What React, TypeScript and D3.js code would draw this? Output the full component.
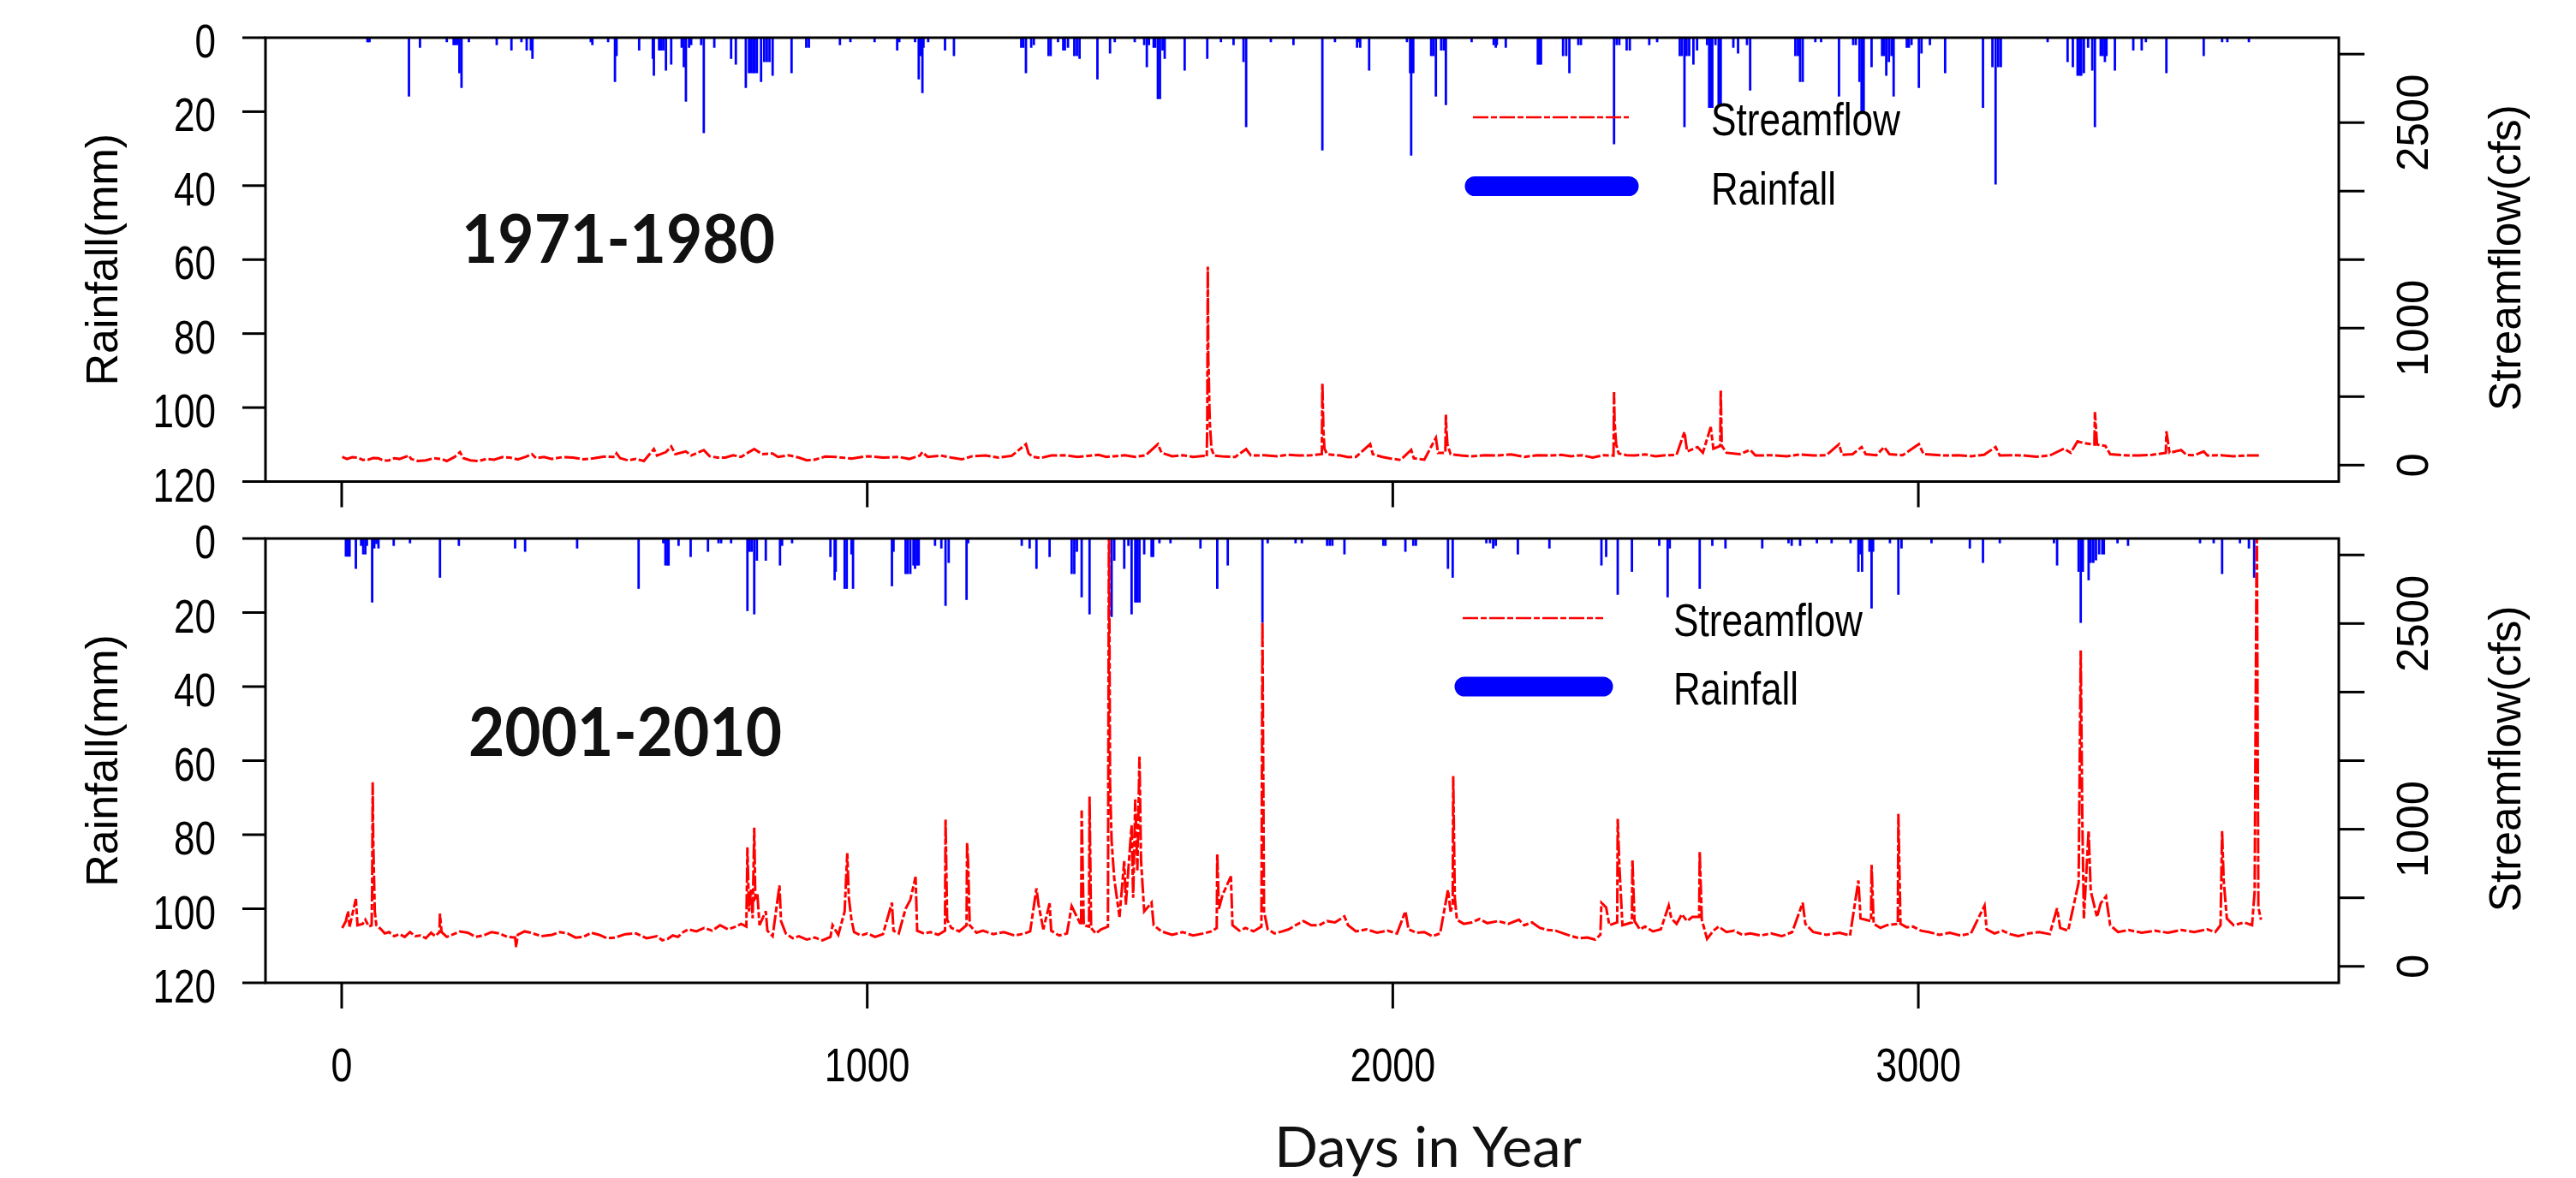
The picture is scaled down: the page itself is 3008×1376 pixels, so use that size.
import React, { useEffect, useRef } from 'react';
import * as d3 from 'd3';

// axis ticks
const rainTicks = [0, 20, 40, 60, 80, 100, 120];
const flowTicks = [0, 500, 1000, 1500, 2000, 2500, 3000];
const flowTickLabels = [0, 1000, 2500];
const dayTicks = [0, 1000, 2000, 3000];

// [day, rainfall mm] for 1971-1980
const rain1971: [number, number][] = [
  [49, 1.2], [51, 1.2], [53, 1.2], [128, 15.9], [149, 2.7], [200, 1.2], [213, 2], [216, 2], [220, 2], [224, 9.6], [228, 13.6],
  [242, 1.2], [295, 2], [323, 3.5], [342, 1.2], [352, 3.5], [360, 3.5], [363, 5.7], [474, 1.2], [477, 2], [507, 1.2],
  [520, 12], [523, 5], [566, 3.5], [592, 5.7], [594, 10.3], [604, 3.5], [608, 3.5], [612, 3.5], [617, 8.9], [627, 7.3],
  [647, 2.7], [651, 8], [655, 17.3], [661, 2.7], [665, 2], [684, 2], [689, 25.8], [709, 2.7], [741, 5.7], [750, 7.3],
  [769, 13.6], [775, 9.6], [779, 9.6], [783, 9.6], [786, 9.6], [790, 9.6], [798, 12], [804, 6.6], [809, 6.6], [814, 6.6], [820, 10.3],
  [856, 9.6], [884, 2.7], [889, 2.7], [948, 2], [968, 1.2], [1014, 1.2], [1057, 3.5], [1061, 1.2], [1091, 1.2], [1098, 11.3],
  [1102, 5], [1105, 15], [1107, 2.7], [1116, 1.2], [1148, 3.5], [1165, 5], [1293, 2.7], [1297, 2.7], [1302, 9.6], [1312, 2.7],
  [1317, 2], [1345, 5], [1349, 5], [1363, 1.2], [1373, 3.5], [1376, 3.5], [1382, 2.7], [1394, 5], [1399, 5], [1404, 5.7],
  [1438, 11.3], [1462, 4.3], [1471, 1.2], [1509, 1.2], [1527, 2], [1532, 8], [1536, 2], [1545, 2.7], [1548, 2.7], [1553, 16.6],
  [1557, 16.6], [1562, 3.5], [1566, 5.7], [1604, 8.9], [1647, 5.7], [1673, 1.2], [1697, 2], [1716, 6.6], [1721, 24.2],
  [1768, 1.2], [1811, 2], [1866, 30.5], [1890, 1.2], [1932, 2.7], [1936, 1.2], [1938, 2.7], [1955, 8.9], [2027, 1.2],
  [2033, 9.6], [2035, 31.9], [2039, 9.6], [2073, 5], [2077, 5], [2082, 15.9], [2092, 3.5], [2097, 3.5], [2101, 18.2],
  [2150, 1.2], [2192, 2], [2196, 2.7], [2198, 2], [2215, 2.7], [2276, 7.3], [2279, 7.3], [2282, 7.3], [2324, 5], [2330, 5],
  [2336, 9.6], [2353, 2], [2358, 2], [2421, 28.8], [2426, 2], [2431, 2], [2445, 3.5], [2451, 3.5], [2488, 2], [2503, 1.2],
  [2546, 5], [2550, 5], [2555, 24.2], [2559, 5], [2564, 5], [2572, 7.3], [2579, 3.5], [2598, 2], [2602, 19], [2605, 19],
  [2608, 19], [2614, 2], [2620, 18.2], [2624, 18.2], [2648, 2.7], [2657, 4.3], [2674, 2], [2680, 14.3], [2766, 5], [2771, 5],
  [2775, 12], [2780, 12], [2804, 1.2], [2815, 1.2], [2849, 15.9], [2876, 2], [2881, 2], [2888, 12], [2892, 20], [2896, 20],
  [2911, 8], [2931, 5], [2935, 5], [2939, 10.3], [2944, 6.6], [2949, 5], [2953, 15.9], [2978, 2.7], [2982, 2.7], [2987, 2],
  [3001, 13.6], [3006, 4.3], [3022, 2], [3051, 9.6], [3123, 19], [3141, 8], [3147, 39.7], [3152, 8], [3157, 8], [3246, 1.2],
  [3284, 6.6], [3294, 8], [3303, 10.3], [3307, 10.3], [3310, 10.3], [3315, 9.6], [3323, 2.7], [3331, 8.9], [3336, 24.2],
  [3347, 5], [3351, 5], [3355, 6.6], [3358, 5], [3374, 8.9], [3409, 3.5], [3425, 3.5], [3433, 1.2], [3472, 9.6], [3543, 5],
  [3578, 1.2], [3588, 1.2], [3629, 1.2]
];

// [day, streamflow cfs] for 1971-1980
const flow1971: [number, number][] = [
  [1, 60], [10, 45], [20, 58], [30, 55], [40, 38], [50, 40], [60, 52], [70, 50], [80, 32], [90, 35], [100, 50], [110, 45],
  [128, 70], [132, 45], [145, 30], [160, 35], [175, 50], [190, 45], [200, 30], [215, 60], [225, 95], [232, 50], [245, 35],
  [260, 30], [275, 45], [290, 40], [305, 58], [320, 55], [335, 42], [350, 60], [362, 80], [370, 50], [385, 60], [400, 45],
  [420, 58], [440, 55], [460, 42], [480, 50], [500, 62], [520, 60], [523, 85], [530, 50], [545, 35], [560, 45], [575, 30],
  [594, 117], [600, 70], [617, 95], [627, 136], [635, 80], [655, 100], [665, 70], [689, 110], [700, 65], [715, 55], [730, 55],
  [745, 72], [760, 60], [775, 95], [785, 117], [800, 80], [820, 85], [830, 60], [850, 72], [870, 55], [885, 35], [900, 40],
  [920, 62], [940, 60], [970, 48], [1000, 65], [1030, 55], [1060, 60], [1080, 45], [1100, 70], [1105, 95], [1115, 60],
  [1140, 70], [1160, 55], [1180, 42], [1200, 65], [1225, 70], [1250, 55], [1275, 68], [1302, 153], [1307, 85], [1315, 60],
  [1330, 52], [1350, 70], [1375, 72], [1400, 60], [1420, 68], [1440, 75], [1455, 60], [1470, 65], [1490, 72], [1510, 60],
  [1530, 72], [1553, 153], [1560, 90], [1580, 65], [1600, 72], [1620, 60], [1640, 68], [1646, 60], [1647, 300], [1648, 1449],
  [1649, 770], [1650, 640], [1651, 430], [1652, 300], [1655, 120], [1660, 70], [1680, 62], [1700, 60], [1721, 117],
  [1730, 70], [1755, 72], [1780, 65], [1800, 75], [1820, 70], [1845, 72], [1865, 80], [1866, 598], [1867, 435], [1868, 250],
  [1870, 120], [1875, 80], [1900, 70], [1915, 58], [1930, 60], [1957, 153], [1962, 80], [1980, 60], [2000, 45], [2015, 38],
  [2035, 111], [2040, 50], [2060, 40], [2082, 199], [2086, 90], [2100, 90], [2101, 368], [2102, 268], [2104, 150], [2110, 80],
  [2130, 70], [2150, 65], [2175, 72], [2200, 70], [2225, 78], [2250, 60], [2275, 72], [2300, 70], [2320, 75], [2340, 65],
  [2360, 72], [2380, 55], [2400, 72], [2420, 70], [2421, 533], [2422, 320], [2425, 150], [2430, 85], [2445, 72], [2460, 70],
  [2480, 78], [2500, 65], [2520, 72], [2540, 75], [2555, 243], [2560, 100], [2580, 132], [2590, 90], [2605, 278], [2610, 120],
  [2623, 140], [2624, 550], [2626, 140], [2635, 90], [2660, 80], [2680, 111], [2690, 70], [2720, 72], [2750, 65], [2775, 78],
  [2800, 70], [2825, 72], [2849, 153], [2855, 75], [2875, 80], [2892, 132], [2900, 80], [2920, 72], [2935, 132], [2945, 80],
  [2970, 72], [3001, 153], [3010, 80], [3030, 75], [3050, 70], [3075, 72], [3100, 65], [3125, 75], [3147, 132], [3155, 70],
  [3180, 72], [3200, 70], [3225, 62], [3250, 70], [3277, 120], [3290, 90], [3303, 174], [3315, 160], [3335, 150], [3336, 387],
  [3340, 150], [3356, 140], [3365, 80], [3390, 72], [3420, 70], [3445, 75], [3471, 90], [3472, 247], [3478, 90], [3500, 110],
  [3510, 75], [3525, 72], [3543, 100], [3550, 70], [3575, 72], [3600, 65], [3625, 70], [3648, 70]
];

// [day, rainfall mm] for 2001-2010
const rain2001: [number, number][] = [
  [8, 4.9], [12, 4.9], [15, 4.9], [27, 8.2], [37, 2], [41, 4.3], [45, 4.3], [48, 2], [58, 17.3], [62, 2.7], [66, 1.5],
  [70, 2.7], [99, 2], [130, 1.3], [187, 10.6], [223, 2], [330, 2.7], [349, 3.6], [448, 2.7], [565, 13.6], [612, 1.3],
  [616, 7.3], [620, 7.3], [622, 7.3], [641, 2], [664, 5], [697, 3.6], [717, 1.3], [722, 1.3], [741, 1.3], [772, 19.6],
  [776, 3.6], [780, 3.6], [785, 20.5], [790, 6], [807, 6], [834, 7.3], [838, 2], [857, 1.3], [930, 5], [938, 11.3], [940, 9],
  [957, 13.6], [961, 13.6], [970, 4.3], [973, 13.6], [1047, 12.9], [1050, 3.6], [1073, 9.6], [1077, 9.6], [1082, 9.6],
  [1088, 7.3], [1091, 8.2], [1095, 7.3], [1098, 7.3], [1129, 2], [1141, 2.7], [1149, 18.2], [1155, 6.6], [1189, 16.6],
  [1192, 1.3], [1294, 2], [1309, 2.7], [1322, 8.2], [1347, 5], [1389, 9.6], [1394, 9.6], [1399, 3.6], [1408, 15.9],
  [1423, 20.5], [1465, 21.2], [1470, 6], [1489, 8.2], [1497, 2], [1503, 20.5], [1510, 17.3], [1514, 17.3], [1518, 17.3],
  [1527, 4.3], [1541, 5], [1544, 5], [1556, 1.3], [1577, 1.3], [1634, 2.7], [1666, 13.6], [1686, 7.3], [1752, 22.8],
  [1762, 1.3], [1815, 1.3], [1827, 1.3], [1875, 2], [1880, 2], [1885, 2], [1908, 4.3], [1982, 2], [1986, 2], [2024, 3.6],
  [2039, 2], [2044, 2], [2105, 8.2], [2114, 10.6], [2178, 1.3], [2185, 1.3], [2191, 2.7], [2196, 2], [2238, 4.3], [2298, 2.7],
  [2397, 7.3], [2406, 5], [2428, 15.2], [2455, 9], [2507, 2], [2523, 15.9], [2527, 2.7], [2584, 13.6], [2608, 2], [2633, 2.7],
  [2703, 2.7], [2753, 1.3], [2759, 2], [2775, 2], [2807, 1.3], [2835, 1.3], [2871, 1.3], [2886, 9], [2890, 4.3], [2893, 9],
  [2907, 3.6], [2911, 18.9], [2914, 3.6], [2946, 1.3], [2962, 15.2], [2968, 2.7], [3025, 1.3], [3098, 2.7], [3123, 6.6],
  [3155, 1.3], [3258, 1.3], [3264, 7.3], [3305, 9], [3309, 22.8], [3313, 9], [3324, 11.3], [3328, 6.6], [3333, 6.6],
  [3338, 5.9], [3344, 4.3], [3350, 4.3], [3353, 4.3], [3379, 1.3], [3399, 2], [3536, 1.3], [3562, 1.3], [3578, 9.6],
  [3612, 1.3], [3629, 2.7], [3639, 10.6]
];

// [day, streamflow cfs] for 2001-2010
const flow2001: [number, number][] = [
  [1, 280], [8, 330], [12, 402], [15, 290], [27, 491], [30, 300], [40, 310], [45, 340], [52, 290], [57, 300], [58, 560],
  [59, 1342], [60, 940], [61, 740], [63, 400], [66, 300], [75, 270], [82, 240], [90, 250], [100, 220], [110, 235], [120, 215],
  [130, 250], [140, 220], [150, 225], [160, 205], [170, 245], [178, 220], [186, 250], [187, 385], [190, 250], [200, 215],
  [210, 230], [225, 255], [240, 245], [255, 215], [270, 225], [285, 250], [300, 240], [315, 215], [330, 210], [332, 140],
  [335, 230], [348, 255], [360, 245], [380, 220], [400, 230], [415, 250], [430, 240], [445, 210], [460, 215], [475, 245],
  [490, 230], [505, 205], [520, 210], [540, 235], [560, 240], [580, 205], [600, 220], [610, 190], [620, 200], [630, 225],
  [640, 215], [650, 250], [660, 270], [675, 255], [690, 280], [705, 260], [720, 300], [735, 270], [750, 290], [760, 310],
  [770, 290], [772, 868], [775, 400], [779, 569], [782, 350], [785, 1012], [787, 500], [791, 527], [795, 300], [807, 402],
  [810, 260], [820, 220], [833, 590], [836, 330], [845, 240], [858, 205], [870, 220], [885, 195], [900, 210], [915, 190],
  [930, 215], [934, 300], [945, 230], [957, 400], [962, 826], [965, 500], [970, 340], [975, 250], [988, 225], [1000, 240],
  [1015, 215], [1030, 235], [1047, 464], [1050, 260], [1060, 240], [1073, 420], [1082, 485], [1092, 653], [1095, 260],
  [1108, 240], [1120, 250], [1135, 230], [1148, 260], [1149, 1075], [1152, 340], [1160, 280], [1175, 255], [1189, 300],
  [1190, 903], [1192, 750], [1195, 300], [1208, 245], [1220, 260], [1240, 235], [1260, 250], [1280, 225], [1300, 240],
  [1310, 255], [1322, 569], [1326, 450], [1335, 270], [1347, 460], [1350, 260], [1365, 225], [1380, 240], [1389, 440],
  [1399, 360], [1407, 300], [1408, 1137], [1412, 300], [1422, 290], [1423, 1238], [1426, 280], [1435, 240], [1445, 270],
  [1458, 290], [1460, 3400], [1462, 1342], [1465, 914], [1470, 640], [1480, 360], [1489, 768], [1492, 450], [1503, 1029],
  [1506, 500], [1510, 1217], [1514, 700], [1518, 1530], [1521, 770], [1527, 400], [1541, 465], [1545, 300], [1560, 255],
  [1580, 230], [1600, 250], [1620, 225], [1640, 240], [1655, 255], [1665, 280], [1666, 826], [1669, 420], [1676, 520],
  [1692, 657], [1695, 300], [1708, 260], [1720, 280], [1735, 255], [1750, 290], [1752, 2512], [1755, 400], [1762, 270],
  [1775, 240], [1790, 255], [1802, 270], [1815, 300], [1830, 330], [1845, 300], [1860, 300], [1875, 330], [1890, 320],
  [1908, 364], [1915, 300], [1930, 255], [1950, 270], [1970, 245], [1990, 260], [2008, 240], [2024, 402], [2030, 270],
  [2045, 245], [2060, 250], [2075, 220], [2090, 240], [2105, 558], [2110, 400], [2114, 450], [2115, 1388], [2118, 500],
  [2122, 340], [2135, 310], [2150, 320], [2165, 345], [2180, 315], [2200, 330], [2220, 310], [2240, 340], [2250, 300],
  [2265, 320], [2280, 280], [2295, 265], [2310, 260], [2325, 240], [2340, 220], [2355, 205], [2370, 210], [2385, 195],
  [2395, 230], [2397, 464], [2406, 430], [2412, 300], [2427, 320], [2428, 1075], [2431, 740], [2437, 300], [2455, 320],
  [2456, 778], [2460, 330], [2470, 270], [2480, 290], [2495, 255], [2510, 270], [2525, 443], [2530, 350], [2540, 310],
  [2550, 380], [2560, 330], [2570, 360], [2583, 360], [2584, 840], [2588, 340], [2598, 200], [2610, 260], [2620, 290],
  [2635, 250], [2650, 260], [2665, 230], [2680, 240], [2700, 225], [2720, 240], [2740, 220], [2760, 250], [2780, 464],
  [2785, 310], [2800, 250], [2825, 230], [2850, 245], [2870, 225], [2886, 626], [2890, 350], [2910, 330], [2911, 740],
  [2915, 310], [2928, 280], [2940, 300], [2961, 310], [2962, 1112], [2966, 310], [2978, 285], [2990, 290], [3005, 260],
  [3020, 250], [3040, 230], [3060, 245], [3080, 225], [3100, 240], [3126, 443], [3130, 270], [3145, 240], [3160, 260],
  [3175, 235], [3190, 220], [3210, 240], [3230, 250], [3250, 235], [3264, 423], [3270, 280], [3285, 260], [3305, 611],
  [3309, 2304], [3312, 1080], [3315, 350], [3324, 991], [3328, 550], [3340, 360], [3347, 460], [3357, 510], [3365, 300],
  [3380, 250], [3400, 265], [3425, 245], [3450, 260], [3475, 245], [3500, 265], [3525, 250], [3550, 270], [3565, 250],
  [3575, 300], [3578, 987], [3581, 630], [3587, 350], [3600, 300], [3620, 320], [3635, 300], [3640, 550], [3644, 3300],
  [3647, 430], [3652, 340]
];

const FONT = '"Liberation Sans", Arial, sans-serif';
const DASH = '18 3 7 3';

const App = () => {
  const svgRef = useRef<SVGSVGElement>(null);

  useEffect(() => {
    const width = 3008;
    const height = 1376;
    const left = 310;
    const right = 2731;

    const svg = d3.select(svgRef.current)
      .attr('width', width)
      .attr('height', height);
    svg.selectAll('*').remove();

    svg.append('rect').attr('width', width).attr('height', height).attr('fill', '#ffffff');

    const xScale = d3.scaleLinear().domain([-145, 3800]).range([left, right]);

    const panels = [
      {
        id: 'p1', period: '1971-1980', rain: rain1971, flow: flow1971, top: 44, bottom: 562.5,
        labelX: 539, labelY: 307,
        legend: { x1: 1720, x2: 1902, y1: 137, y2: 217.5, textX: 1998 }
      },
      {
        id: 'p2', period: '2001-2010', rain: rain2001, flow: flow2001, top: 629, bottom: 1148,
        labelX: 547, labelY: 883,
        legend: { x1: 1708, x2: 1872, y1: 722, y2: 802, textX: 1954 }
      }
    ];

    const condensed = (x, y, text, size, sx, anchor) =>
      svg.append('text')
        .attr('transform', `translate(${x},${y}) scale(${sx},1)`)
        .attr('text-anchor', anchor)
        .style('font-family', FONT)
        .style('font-size', `${size}px`)
        .attr('fill', '#000')
        .text(text);

    const rotated = (x, y, text, size) =>
      svg.append('text')
        .attr('transform', `translate(${x},${y}) rotate(-90)`)
        .attr('text-anchor', 'middle')
        .style('font-family', FONT)
        .style('font-size', `${size}px`)
        .attr('fill', '#000')
        .text(text);

    panels.forEach((p, pi) => {
      const yRain = d3.scaleLinear().domain([0, 120]).range([p.top, p.bottom]);
      const yFlow = d3.scaleLinear().domain([-120, 3120]).range([p.bottom, p.top]);

      svg.append('clipPath').attr('id', `clip-${p.id}`)
        .append('rect')
        .attr('x', left).attr('y', p.top)
        .attr('width', right - left).attr('height', p.bottom - p.top);

      const plot = svg.append('g').attr('clip-path', `url(#clip-${p.id})`);

      // rainfall hanging bars
      plot.selectAll('.rain')
        .data(p.rain)
        .enter().append('line')
        .attr('x1', d => xScale(d[0]))
        .attr('x2', d => xScale(d[0]))
        .attr('y1', yRain(0))
        .attr('y2', d => yRain(d[1]))
        .attr('stroke', '#0000ff')
        .attr('stroke-width', 2.8);

      // streamflow
      const line = d3.line<[number, number]>()
        .x(d => xScale(d[0]))
        .y(d => yFlow(d[1]));

      plot.append('path')
        .datum(p.flow)
        .attr('d', line)
        .attr('fill', 'none')
        .attr('stroke', '#ff0000')
        .attr('stroke-width', 3)
        .attr('stroke-dasharray', DASH);

      // box
      svg.append('rect')
        .attr('x', left).attr('y', p.top)
        .attr('width', right - left).attr('height', p.bottom - p.top)
        .attr('fill', 'none').attr('stroke', '#000').attr('stroke-width', 3);

      // left axis
      rainTicks.forEach(t => {
        svg.append('line')
          .attr('x1', left - 27).attr('x2', left)
          .attr('y1', yRain(t)).attr('y2', yRain(t))
          .attr('stroke', '#000').attr('stroke-width', 3);
        condensed(252, yRain(t) + 23, String(t), 55, 0.8, 'end');
      });
      rotated(137, (p.top + p.bottom) / 2, 'Rainfall(mm)', 52);

      // right axis
      flowTicks.forEach(t => {
        svg.append('line')
          .attr('x1', right).attr('x2', right + 30)
          .attr('y1', yFlow(t)).attr('y2', yFlow(t))
          .attr('stroke', '#000').attr('stroke-width', 3);
      });
      flowTickLabels.forEach(t => rotated(2835, yFlow(t), String(t), 51));
      rotated(2943, (p.top + p.bottom) / 2 - 2, 'Streamflow(cfs)', 51.5);

      // bottom ticks
      dayTicks.forEach(t => {
        svg.append('line')
          .attr('x1', xScale(t)).attr('x2', xScale(t))
          .attr('y1', p.bottom).attr('y2', p.bottom + 30)
          .attr('stroke', '#000').attr('stroke-width', 3);
        if (pi === 1) condensed(xScale(t), 1263, String(t), 56, 0.8, 'middle');
      });

      // period label
      svg.append('text')
        .attr('x', p.labelX).attr('y', p.labelY)
        .attr('textLength', 366).attr('lengthAdjust', 'spacingAndGlyphs')
        .style('font-family', 'Lato, "Open Sans", sans-serif')
        .style('font-weight', 700)
        .style('font-size', '78px')
        .attr('fill', '#111')
        .text(p.period);

      // legend
      const lg = p.legend;
      svg.append('line')
        .attr('x1', lg.x1).attr('x2', lg.x2).attr('y1', lg.y1).attr('y2', lg.y1)
        .attr('stroke', '#ff0000').attr('stroke-width', 2.7)
        .attr('stroke-dasharray', DASH);
      svg.append('line')
        .attr('x1', lg.x1 + 2).attr('x2', lg.x2).attr('y1', lg.y2).attr('y2', lg.y2)
        .attr('stroke', '#0000ff').attr('stroke-width', 23)
        .attr('stroke-linecap', 'round');
      svg.append('text')
        .attr('x', lg.textX).attr('y', lg.y1 + 21)
        .attr('textLength', 221).attr('lengthAdjust', 'spacingAndGlyphs')
        .style('font-family', FONT).style('font-size', '53px')
        .text('Streamflow');
      svg.append('text')
        .attr('x', lg.textX).attr('y', lg.y2 + 21)
        .attr('textLength', 146).attr('lengthAdjust', 'spacingAndGlyphs')
        .style('font-family', FONT).style('font-size', '53px')
        .text('Rainfall');
    });

    svg.append('text')
      .attr('x', 1488).attr('y', 1363)
      .attr('textLength', 359).attr('lengthAdjust', 'spacingAndGlyphs')
      .style('font-family', 'Lato, "Open Sans", sans-serif')
      .style('font-size', '66px')
      .attr('fill', '#111')
      .text('Days in Year');
  }, []);

  return (
    <svg ref={svgRef} style={{ position: 'absolute', left: 0, top: 0, display: 'block' }}></svg>
  );
};

export default App;
